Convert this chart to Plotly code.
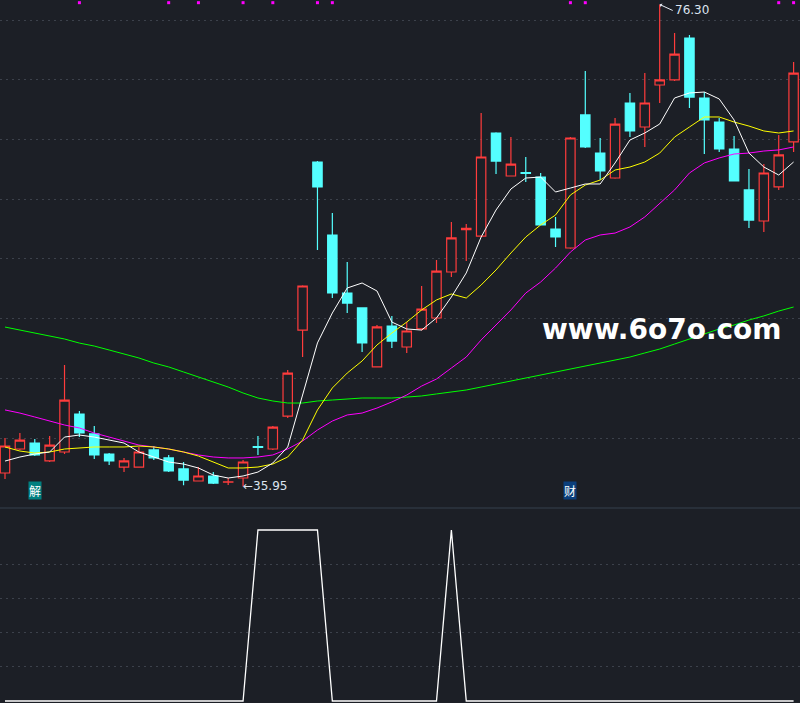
import plotly.graph_objects as go

# daily K-line
opens = [37.07, 39.08, 39.58, 38.08, 38.83, 42.01, 40.34, 38.66, 37.57, 37.57,
         39.00, 38.33, 37.41, 36.40, 36.82, 36.30, 36.65, 39.28, 39.08, 41.84,
         49.04, 63.11, 57.00, 52.14, 50.89, 45.95, 49.38, 47.62, 49.13, 50.05,
         53.90, 57.45, 56.91, 65.54, 61.94, 62.22, 61.85, 57.50, 55.91, 67.05,
         63.86, 61.77, 68.05, 66.04, 69.56, 69.98, 73.49, 68.47, 66.46, 64.20,
         60.77, 58.17, 61.02, 64.79]
highs = [40.00, 40.42, 39.92, 40.17, 46.11, 42.26, 41.01, 38.74, 38.33, 39.25,
         39.33, 38.58, 37.99, 37.57, 37.15, 36.65, 38.16, 40.17, 41.00, 45.69,
         52.80, 63.19, 58.84, 54.74, 50.95, 49.46, 50.22, 49.71, 52.73, 54.90,
         58.09, 57.92, 67.21, 65.60, 65.20, 63.53, 62.19, 58.51, 65.20, 70.73,
         65.12, 66.79, 68.89, 70.56, 76.30, 73.91, 73.74, 68.97, 66.79, 65.29,
         62.52, 62.94, 65.37, 71.48]
lows = [36.57, 39.00, 38.50, 38.00, 38.66, 40.08, 38.24, 37.74, 37.15, 37.50,
        38.16, 37.15, 36.05, 36.35, 36.15, 36.07, 35.95, 38.58, 39.00, 41.68,
        46.78, 55.74, 51.72, 50.47, 47.20, 45.90, 47.54, 47.12, 49.00, 49.63,
        53.48, 54.82, 56.85, 62.11, 61.90, 61.44, 57.80, 55.99, 55.85, 64.28,
        61.60, 61.70, 65.20, 64.37, 68.05, 69.90, 67.63, 63.78, 63.95, 61.50,
        57.58, 57.25, 60.77, 63.95]
closes = [39.33, 39.83, 38.58, 39.41, 43.18, 40.42, 38.58, 38.08, 38.08, 38.83,
          38.33, 37.24, 36.48, 36.82, 36.23, 36.34, 37.99, 39.22, 40.92, 45.44,
          52.73, 61.02, 52.14, 51.30, 47.96, 49.30, 48.12, 48.96, 50.80, 53.98,
          56.75, 57.55, 63.53, 63.19, 62.94, 62.16, 57.84, 56.83, 65.12, 64.37,
          62.36, 66.29, 65.71, 68.05, 69.98, 72.15, 68.55, 66.63, 64.20, 61.52,
          58.25, 62.19, 63.70, 70.56]

ma5 = [38.07, 38.41, 38.66, 38.83, 40.08, 40.25, 40.08, 39.83, 39.58, 38.83,
       38.41, 37.99, 37.82, 37.49, 36.90, 36.65, 36.82, 37.15, 37.91, 39.25,
       43.60, 47.96, 50.47, 52.56, 52.98, 52.31, 49.71, 49.13, 49.04, 50.05,
       51.81, 53.82, 56.83, 59.09, 60.85, 61.77, 61.85, 60.60, 60.93, 61.27,
       61.27, 63.03, 64.95, 65.54, 66.29, 68.47, 68.89, 68.97, 68.39, 66.63,
       63.86, 62.69, 62.02, 63.11]
ma10 = [39.25, 38.91, 38.74, 38.83, 39.08, 39.16, 39.25, 39.25, 39.25, 39.33,
        39.25, 39.08, 38.83, 38.49, 37.99, 37.49, 37.49, 37.57, 37.82, 38.41,
        39.83, 42.35, 44.19, 45.44, 46.45, 47.79, 48.79, 49.71, 50.72, 51.56,
        52.06, 51.72, 52.81, 54.07, 55.49, 56.83, 57.84, 58.67, 60.35, 61.18,
        61.60, 62.44, 62.69, 63.11, 63.86, 65.20, 66.04, 66.88, 66.88, 66.46,
        66.12, 65.71, 65.54, 65.71]
ma20 = [42.35, 42.09, 41.76, 41.42, 41.09, 40.84, 40.42, 40.08, 39.75, 39.41,
        39.25, 39.08, 38.83, 38.58, 38.41, 38.33, 38.33, 38.41, 38.58, 39.08,
        39.75, 40.67, 41.42, 41.93, 42.09, 42.51, 43.02, 43.60, 44.35, 44.94,
        45.86, 46.78, 48.21, 49.46, 50.72, 52.14, 53.06, 54.23, 55.57, 56.58,
        57.00, 57.16, 57.67, 58.51, 59.68, 60.77, 62.19, 63.03, 63.45, 63.78,
        63.86, 64.03, 64.12, 64.37]
ma60 = [49.29, 49.04, 48.79, 48.54, 48.29, 47.95, 47.70, 47.37, 47.03, 46.70,
        46.28, 45.95, 45.53, 45.11, 44.69, 44.27, 43.77, 43.35, 43.10, 42.93,
        42.93, 43.10, 43.18, 43.27, 43.35, 43.35, 43.35, 43.43, 43.52, 43.69,
        43.85, 44.02, 44.27, 44.52, 44.77, 45.02, 45.28, 45.53, 45.78, 46.03,
        46.28, 46.53, 46.78, 47.12, 47.45, 47.87, 48.29, 48.71, 49.13, 49.46,
        49.88, 50.22, 50.63, 50.97]

# lower panel 0/1 signal
signal = [0] * 17 + [1] * 5 + [0] * 8 + [1] + [0] * 23

# days with the small magenta flag on top
flag_days = [5, 11, 13, 16, 18, 21, 22, 38, 39, 52, 53]

price_ticks = [40, 45, 50, 55, 60, 65, 70, 75]
signal_ticks = [0.2, 0.4, 0.6, 0.8]

days = list(range(len(closes)))

BG = "#1c1f26"
RED = "#ff3c3c"
CYAN = "#54ffff"
GRID = "#3c414b"

fig = go.Figure()

fig.add_trace(go.Candlestick(
    x=days, open=opens, high=highs, low=lows, close=closes,
    increasing=dict(line=dict(color=RED, width=1.2), fillcolor=BG),
    decreasing=dict(line=dict(color=CYAN, width=1.2), fillcolor=CYAN),
    whiskerwidth=0, hoverinfo="skip",
))

for vals, col in [(ma60, "#00ff00"), (ma20, "#ff00ff"), (ma10, "#ffff00"), (ma5, "#ffffff")]:
    fig.add_trace(go.Scatter(x=days, y=vals, mode="lines",
                             line=dict(color=col, width=1), hoverinfo="skip"))

# flags along the top edge
fig.add_trace(go.Scatter(x=flag_days, y=[76.45] * len(flag_days), mode="markers",
                         marker=dict(symbol="square", size=3, color="#ff00ff"),
                         hoverinfo="skip"))

fig.add_trace(go.Scatter(x=days, y=signal, mode="lines", xaxis="x2", yaxis="y2",
                         line=dict(color="#ffffff", width=1.3), hoverinfo="skip"))

hi_day = highs.index(max(highs))
lo_day = lows.index(min(lows))

fig.add_annotation(x=hi_day, y=max(highs), text="%.2f" % max(highs),
                   showarrow=True, ax=13, ay=6, xanchor="left", arrowhead=1,
                   arrowsize=0.7, arrowwidth=1, arrowcolor="#e6ecf5", standoff=0,
                   font=dict(family="DejaVu Sans", size=12, color="#dde4f0"))
fig.add_annotation(x=lo_day, y=min(lows), text="←%.2f" % min(lows),
                   showarrow=False, xanchor="left", yanchor="middle", xshift=-2,
                   font=dict(family="DejaVu Sans", size=12, color="#dde4f0"))

# event labels under the price panel
for day, txt, bg in [(2, "解", "#008080"), (38, "财", "#0b3f7c")]:
    fig.add_annotation(x=day, y=1 - 500 / 703, xref="x", yref="paper", text=txt,
                       showarrow=False, bgcolor=bg, borderpad=0,
                       font=dict(family="Noto Sans CJK SC", size=12, color="#ffffff"))

fig.add_annotation(x=0.827, y=0.532, xref="paper", yref="paper", text="<b>www.6o7o.com</b>",
                   showarrow=False, xanchor="center", yanchor="middle",
                   font=dict(family="DejaVu Sans", size=28, color="#ffffff"))

fig.add_shape(type="line", xref="paper", yref="paper", x0=0, x1=1,
              y0=1 - 508 / 703, y1=1 - 508 / 703, line=dict(color="#34404c", width=1))

axis_common = dict(showticklabels=False, zeroline=False, showline=False, ticks="")

fig.update_layout(
    width=800, height=703,
    margin=dict(l=0, r=0, t=0, b=0),
    paper_bgcolor=BG, plot_bgcolor=BG,
    showlegend=False, boxgap=0.1,
    xaxis=dict(range=[-0.336, 53.43], domain=[0, 1], showgrid=False,
               rangeslider=dict(visible=False), anchor="y", **axis_common),
    xaxis2=dict(range=[-0.336, 53.43], domain=[0, 1], showgrid=False,
                matches="x", anchor="y2", **axis_common),
    yaxis=dict(domain=[1 - 508 / 703, 1], range=[34.14, 76.675],
               tickvals=price_ticks, showgrid=True, gridcolor=GRID,
               griddash="2px,4px", gridwidth=1, **axis_common),
    yaxis2=dict(domain=[0, 194 / 703], range=[-0.0117, 1.1228],
                tickvals=signal_ticks, showgrid=True, gridcolor=GRID,
                griddash="2px,4px", gridwidth=1, **axis_common),
)

fig.write_html("out.html", config={"displayModeBar": False},
               post_script="document.body.style.margin='0';")
